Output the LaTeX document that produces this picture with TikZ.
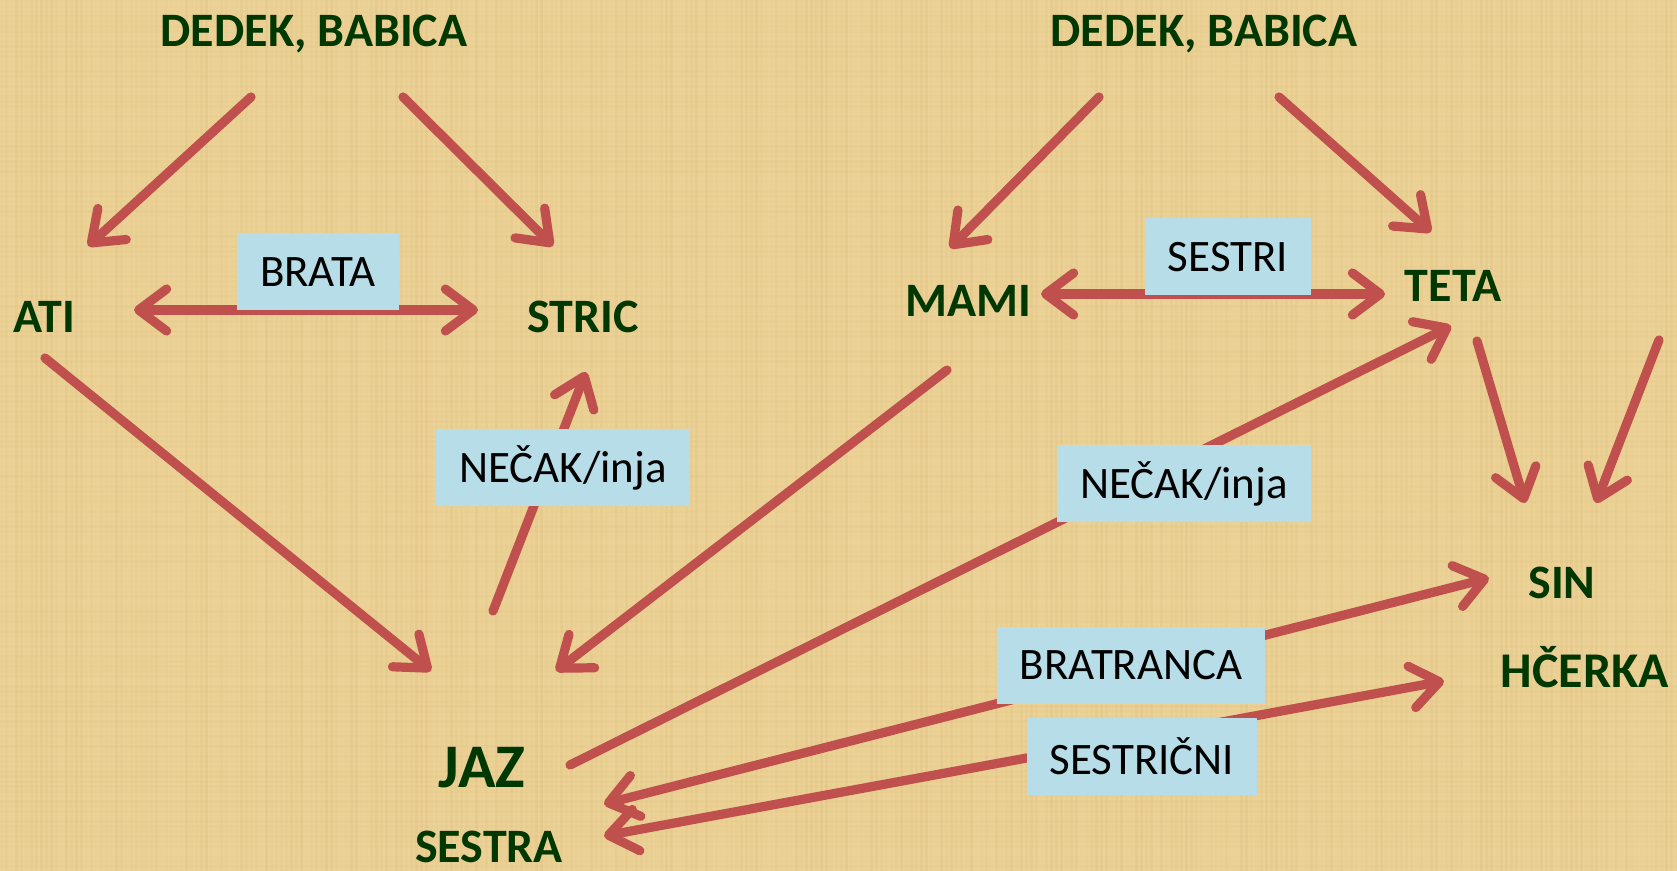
\documentclass[tikz,border=0pt]{standalone}
\usepackage{fontspec}
\setmainfont{Carlito}
\usetikzlibrary{arrows.meta}
\definecolor{paper}{RGB}{236,210,150}
\definecolor{paperdk}{RGB}{200,166,100}
\definecolor{arrowred}{RGB}{192,80,77}
\definecolor{namegreen}{RGB}{0,56,0}
\definecolor{boxblue}{RGB}{183,222,232}

\begin{document}
\begin{tikzpicture}[x=0.5pt,y=-0.5pt,inner sep=0mm,
  >={Straight Barb[length=14pt,width=21pt,round]},
  person/.style={text=namegreen,anchor=base,font=\fontsize{24}{28}\selectfont\bfseries},
  relbox/.style={fill=boxblue,inner xsep=11.5pt,minimum height=38.5pt,font=\fontsize{22.5}{26}\selectfont},
  arrowline/.style={draw=arrowred,line width=4.6pt,line cap=round,->}]

  \fill[paper] (0,0) rectangle (1677,871);
  \useasboundingbox (0,0) rectangle (1677,871);
  \pgfmathsetseed{42}
  \foreach \i in {0,5,...,1675} {
    \pgfmathsetmacro\op{0.14*rnd}
    \fill[paperdk,opacity=\op] (\i,0) rectangle ++(3,871);
  }
  \foreach \j in {0,5,...,870} {
    \pgfmathsetmacro\op{0.08*rnd}
    \fill[paperdk,opacity=\op] (0,\j) rectangle ++(1677,3);
  }

  \node[person] (dedekL) at (314,47) {DEDEK, BABICA};
  \node[person] (dedekR) at (1204,47) {DEDEK, BABICA};
  \node[person] (ati)    at (44,333)  {ATI};
  \node[person] (stric)  at (583,333) {STRIC};
  \node[person] (mami)   at (968,317) {MAMI};
  \node[person] (teta)   at (1453,302) {TETA};
  \node[person,font=\fontsize{31}{34}\selectfont\bfseries] (jaz) at (482,787) {JAZ};
  \node[person] (sestra) at (489,862) {SESTRA};
  \node[person] (sin)    at (1562,598) {SIN};
  \node[person,font=\fontsize{25}{28}\selectfont\bfseries] (hcerka) at (1585,687) {HČERKA};

  \coordinate (dL1) at (251,97);      \coordinate (atiN) at (88,246);
  \coordinate (dL2) at (403,97);      \coordinate (stricN) at (553,246);
  \coordinate (atiE) at (134,310);    \coordinate (stricW) at (478,310);
  \coordinate (atiS) at (45,358);     \coordinate (jazNW) at (431,671);
  \coordinate (jazN) at (493,611);    \coordinate (stricS) at (586,372);
  \coordinate (mamiS) at (947,370);   \coordinate (jazNE) at (556,671);
  \coordinate (dR1) at (1099,97);     \coordinate (mamiN) at (950,248);
  \coordinate (dR2) at (1279,97);     \coordinate (tetaN) at (1431,232);
  \coordinate (mamiE) at (1041,294);  \coordinate (tetaW) at (1385,294);
  \coordinate (jazE) at (570,765);    \coordinate (tetaS) at (1451,326);
  \coordinate (tetaSE) at (1477,341); \coordinate (sinN1) at (1525,503);
  \coordinate (edgeR) at (1659,340);  \coordinate (sinN2) at (1596,503);
  \coordinate (sestraE1) at (604,804); \coordinate (sinW) at (1489,578);
  \coordinate (sestraE2) at (604,836); \coordinate (hcerkaW) at (1444,681);

  \foreach \a/\b in {dL1/atiN,dL2/stricN,atiS/jazNW,jazN/stricS,mamiS/jazNE,
                     dR1/mamiN,dR2/tetaN,jazE/tetaS,tetaSE/sinN1,edgeR/sinN2} {
    \draw[arrowline] (\a) -- (\b);
  }
  \foreach \a/\b in {atiE/stricW,mamiE/tetaW,sestraE1/sinW,sestraE2/hcerkaW} {
    \draw[arrowline,<->] (\a) -- (\b);
  }

  \node[relbox] (brata)     at (318,272)  {BRATA};
  \node[relbox] (necakL)    at (563,468)  {NEČAK/inja};
  \node[relbox] (sestri)    at (1228,257) {SESTRI};
  \node[relbox] (necakR)    at (1184,484) {NEČAK/inja};
  \node[relbox] (bratranca) at (1131,665) {BRATRANCA};
  \node[relbox] (sestricni) at (1142,756) {SESTRIČNI};

\end{tikzpicture}
\end{document}
